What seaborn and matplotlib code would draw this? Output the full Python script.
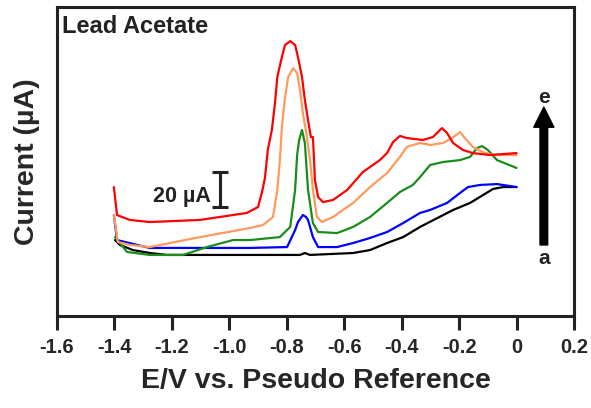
# Lead Acetate voltammogram (curves a-e)

import matplotlib
matplotlib.use('Agg')
import matplotlib.pyplot as plt
import pandas as pd
import seaborn as sns

# 데이터 (E / V, current / µA)
E_a = [-1.398, -1.381, -1.336, -1.277, -1.217, -0.754, -0.737, -0.719, -0.569, -0.510,
       -0.451, -0.395, -0.336, -0.221, -0.162, -0.117, -0.082, -0.047, 0.0]
I_a = [43.4, 40.6, 37.7, 36.0, 34.9, 34.9, 36.0, 34.9, 36.0, 37.7,
       41.7, 45.1, 50.9, 60.6, 64.6, 69.1, 72.6, 73.7, 73.7]

E_b = [-1.402, -1.391, -1.277, -0.928, -0.799, -0.771, -0.761, -0.744, -0.733, -0.726,
       -0.709, -0.691, -0.625, -0.569, -0.510, -0.451, -0.395, -0.336, -0.301, -0.242,
       -0.197, -0.169, -0.127, -0.068, 0.0]
I_b = [57.7, 43.4, 38.9, 38.9, 39.4, 49.1, 53.7, 57.7, 56.6, 54.9,
       45.1, 39.4, 39.4, 41.7, 44.6, 48.0, 53.1, 58.9, 60.6, 64.6,
       70.3, 73.7, 74.9, 75.4, 73.7]

E_c = [-1.398, -1.356, -1.277, -1.161, -1.078, -0.987, -0.928, -0.824, -0.788, -0.771,
       -0.764, -0.757, -0.747, -0.737, -0.726, -0.709, -0.691, -0.625, -0.569, -0.510,
       -0.451, -0.406, -0.361, -0.336, -0.301, -0.256, -0.197, -0.162, -0.138, -0.120,
       -0.100, -0.068, 0.0]
I_c = [45.1, 36.6, 34.9, 34.9, 39.4, 43.4, 43.4, 45.1, 50.9, 72.0,
       92.0, 100.6, 106.3, 98.9, 72.0, 53.1, 48.0, 47.4, 50.9, 56.6,
       64.6, 70.9, 74.9, 79.4, 86.3, 88.0, 89.1, 90.9, 96.0, 97.1,
       94.9, 89.1, 84.6]

E_d = [-1.402, -1.388, -1.346, -1.277, -1.102, -0.928, -0.883, -0.848, -0.833, -0.824,
       -0.817, -0.806, -0.795, -0.778, -0.764, -0.754, -0.744, -0.730, -0.719, -0.709,
       -0.695, -0.677, -0.639, -0.615, -0.569, -0.510, -0.451, -0.406, -0.382, -0.336,
       -0.301, -0.256, -0.225, -0.197, -0.180, -0.152, -0.117, -0.082, 0.0]
I_d = [57.7, 42.3, 40.6, 39.4, 45.1, 50.3, 52.0, 56.6, 72.0, 89.1,
       108.0, 125.1, 136.6, 141.7, 138.9, 129.1, 116.0, 102.3, 89.1, 72.0,
       56.6, 53.7, 56.6, 59.4, 64.6, 73.7, 81.7, 90.9, 96.6, 98.9,
       97.7, 98.9, 101.7, 105.1, 101.7, 96.6, 93.7, 92.0, 92.0]

E_e = [-1.402, -1.391, -1.346, -1.277, -1.102, -0.939, -0.900, -0.886, -0.876, -0.866,
       -0.852, -0.841, -0.833, -0.817, -0.806, -0.788, -0.771, -0.761, -0.747, -0.737,
       -0.726, -0.716, -0.709, -0.705, -0.702, -0.691, -0.674, -0.639, -0.615, -0.590,
       -0.535, -0.476, -0.451, -0.430, -0.406, -0.382, -0.326, -0.291, -0.260, -0.242,
       -0.221, -0.187, -0.152, -0.093, 0.0]
I_e = [73.7, 57.7, 54.9, 53.7, 54.9, 58.9, 62.3, 70.9, 78.9, 94.9,
       106.3, 121.7, 136.6, 148.0, 154.9, 157.1, 154.9, 148.0, 136.6, 123.4,
       112.0, 102.3, 102.3, 89.1, 77.7, 68.0, 65.1, 66.3, 69.1, 72.0,
       82.3, 89.1, 93.1, 99.4, 102.9, 101.7, 100.6, 102.3, 107.4, 104.6,
       98.9, 94.9, 93.1, 92.0, 93.1]

curves = ['a', 'b', 'c', 'd', 'e']
colors = ['black', '#0000ff', '#1a8c1a', '#ff9a5c', '#ff0000']
x_ticks = [-1.6, -1.4, -1.2, -1.0, -0.8, -0.6, -0.4, -0.2, 0.0, 0.2]
x_tick_labels = ['-1.6', '-1.4', '-1.2', '-1.0', '-0.8', '-0.6', '-0.4', '-0.2', '0', '0.2']

frames = []
for name, E, I in zip(curves, [E_a, E_b, E_c, E_d, E_e], [I_a, I_b, I_c, I_d, I_e]):
    frames.append(pd.DataFrame({'E': E, 'I': I, 'curve': name}))
df = pd.concat(frames, ignore_index=True)

# 스타일
sns.set_style('white')
plt.rcParams['font.family'] = ['Liberation Sans', 'DejaVu Sans']
plt.rcParams['font.weight'] = 'bold'
plt.rcParams['lines.solid_joinstyle'] = 'round'

fig = plt.figure(figsize=(5.91, 4.08), dpi=100)
ax = fig.add_axes([57 / 591, 92 / 408, 517 / 591, 309 / 408])

sns.lineplot(data=df, x='E', y='I', hue='curve', palette=colors,
             sort=False, estimator=None, legend=False, linewidth=1.6, ax=ax)

ax.set_xlim(-1.6, 0.2)
ax.set_ylim(0, 176.6)
ax.set_xticks(x_ticks)
ax.set_xticklabels(x_tick_labels, fontsize=14.5, fontweight='bold')
ax.set_yticks([])
ax.set_xlabel('E/V vs. Pseudo Reference', fontsize=20.5, fontweight='bold', labelpad=8)
ax.set_ylabel('Current (µA)', fontsize=20.5, fontweight='bold', labelpad=12)

for s in ax.spines.values():
    s.set_linewidth(2.2)
    s.set_color('#222222')
ax.tick_params(axis='x', direction='out', length=10, width=2.2, color='#222222',
               bottom=True, pad=6)

# 제목
ax.text(0.01, 0.916, 'Lead Acetate', transform=ax.transAxes, fontsize=17,
        fontweight='bold', color='#222222', ha='left', va='baseline')

# 20 µA scale bar
ax.errorbar([-1.033], [72.3], yerr=10, capsize=5.5, capthick=2.2, elinewidth=2.2,
            color='#222222', fmt='none')
ax.text(-1.065, 65.1, '20 µA', fontsize=15.5, fontweight='bold', color='#222222',
        ha='right', va='baseline')

# arrow a -> e
ax.annotate('', xy=(0.095, 119.4), xytext=(0.095, 40.6),
            arrowprops=dict(facecolor='black', edgecolor='black', width=5.5,
                            headwidth=14.5, headlength=14.5, shrink=0))
ax.text(0.095, 124.6, 'e', fontsize=15, fontweight='bold', color='#222222',
        ha='center', va='center')
ax.text(0.095, 33.1, 'a', fontsize=15, fontweight='bold', color='#222222',
        ha='center', va='center')

fig.savefig('out.png', dpi=100)
